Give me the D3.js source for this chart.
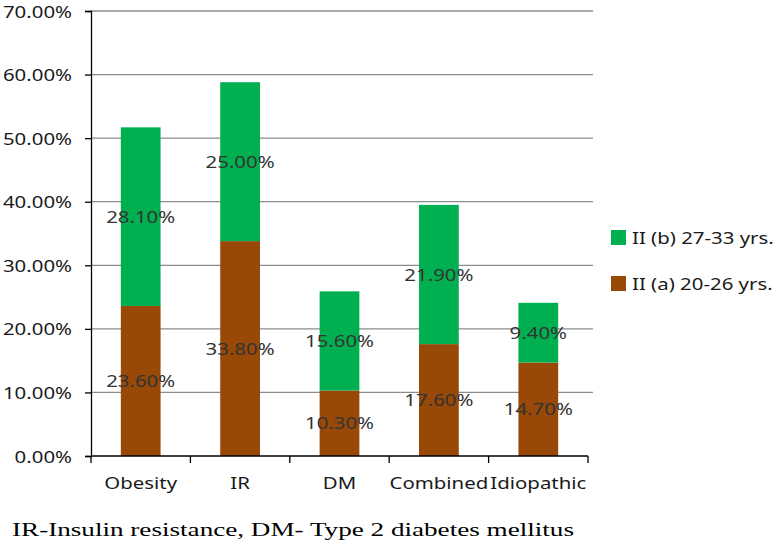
<!DOCTYPE html>
<html>
<head>
<meta charset="utf-8">
<script src="https://cdn.jsdelivr.net/npm/d3@7"></script>
<style>
  body { margin: 0; background: #fff; }
  svg { display: block; }
</style>
</head>
<body>
<svg width="774" height="545"></svg>
<script>
var categories = ["Obesity", "IR", "DM", "Combined", "Idiopathic"];
var seriesA = [23.6, 33.8, 10.3, 17.6, 14.7];   // II (a) 20-26 yrs.
var seriesB = [28.1, 25.0, 15.6, 21.9, 9.4];    // II (b) 27-33 yrs.
var yTicks = [0, 10, 20, 30, 40, 50, 60, 70];
var seriesNames = ["II (a) 20-26 yrs.", "II (b) 27-33 yrs."];
var footnote = "IR-Insulin resistance, DM- Type 2 diabetes mellitus";

var colA = "#984807", colB = "#00b050";
var font = "'Noto Sans', sans-serif";
var sx = 1.2; // text in the picture is stretched sideways

var svg = d3.select("svg");

var plotLeft = 91, plotRight = 588, plotTop = 11, plotBottom = 456;

var x = d3.scaleBand().domain(categories).range([plotLeft, plotRight]).paddingInner(0.6).paddingOuter(0.3);
var xEdge = d3.scaleLinear().domain([0, categories.length]).range([plotLeft, plotRight]);
var y = d3.scaleLinear().domain([0, 70]).range([plotBottom, plotTop]);

function stretchedText(g, px, py, txt, anchor) {
    return g.append("text")
        .attr("transform", "translate(" + px + "," + py + ") scale(" + sx + ",1)")
        .attr("text-anchor", anchor)
        .style("font-family", font)
        .style("font-size", "17px")
        .text(txt);
}

///////////////////// GRID ////////////////////
svg.append("g").selectAll("line")
    .data(yTicks.slice(1))
    .enter().append("line")
    .attr("x1", plotLeft).attr("x2", 593)
    .attr("y1", function(d) { return y(d); })
    .attr("y2", function(d) { return y(d); })
    .attr("stroke", "#8c8c8c")
    .attr("stroke-width", 1.3);

///////////////////// BARS ////////////////////
var rows = categories.map(function(c, i) { return { cat: c, a: seriesA[i], b: seriesB[i] }; });

var bars = svg.append("g");
bars.selectAll(".barA").data(rows).enter().append("rect")
    .attr("x", function(d) { return x(d.cat); })
    .attr("width", x.bandwidth())
    .attr("y", function(d) { return y(d.a); })
    .attr("height", function(d) { return y(0) - y(d.a); })
    .attr("fill", colA);
bars.selectAll(".barB").data(rows).enter().append("rect")
    .attr("x", function(d) { return x(d.cat); })
    .attr("width", x.bandwidth())
    .attr("y", function(d) { return y(d.a + d.b); })
    .attr("height", function(d) { return y(d.a) - y(d.a + d.b); })
    .attr("fill", colB);

///////////////////// Y AXIS ////////////////////
var yAxis = d3.axisLeft(y).tickValues(yTicks).tickSize(6)
    .tickFormat(function(d) { return d.toFixed(2) + "%"; });
var yg = svg.append("g").attr("transform", "translate(" + plotLeft + ",0)").call(yAxis);
yg.select(".domain").attr("stroke", "#000").attr("stroke-width", 1.3);
yg.selectAll(".tick line").attr("stroke", "#000").attr("stroke-width", 1.3);
yg.selectAll(".tick text").remove();
yg.selectAll(".tick").each(function(d) {
    stretchedText(d3.select(this), -19, 6, d.toFixed(2) + "%", "end").attr("fill", "#1a1a1a");
});

///////////////////// X AXIS ////////////////////
var xg = svg.append("g");
xg.append("line").attr("x1", plotLeft).attr("x2", plotRight).attr("y1", plotBottom).attr("y2", plotBottom)
    .attr("stroke", "#000").attr("stroke-width", 1.3);
xg.selectAll(".edge").data(d3.range(categories.length + 1)).enter().append("line")
    .attr("x1", function(d) { return xEdge(d); }).attr("x2", function(d) { return xEdge(d); })
    .attr("y1", plotBottom).attr("y2", plotBottom + 7)
    .attr("stroke", "#000").attr("stroke-width", 1.3);
categories.forEach(function(c) {
    stretchedText(xg, x(c) + x.bandwidth() / 2, 489, c, "middle").attr("fill", "#1a1a1a");
});

///////////////////// DATA LABELS ////////////////////
var lab = svg.append("g");
rows.forEach(function(d) {
    var cx = x(d.cat) + x.bandwidth() / 2;
    stretchedText(lab, cx, (y(0) + y(d.a)) / 2 + 6, d.a.toFixed(2) + "%", "middle").attr("fill", "#333");
    stretchedText(lab, cx, (y(d.a) + y(d.a + d.b)) / 2 + 6, d.b.toFixed(2) + "%", "middle").attr("fill", "#333");
});

///////////////////// LEGEND ////////////////////
var leg = svg.append("g");
[{ name: seriesNames[1], col: colB, yy: 230 }, { name: seriesNames[0], col: colA, yy: 276 }].forEach(function(it) {
    leg.append("rect").attr("x", 611).attr("y", it.yy).attr("width", 15).attr("height", 15).attr("fill", it.col);
    stretchedText(leg, 632, it.yy + 14, it.name, "start").attr("fill", "#1a1a1a");
});

///////////////////// FOOTNOTE ////////////////////
svg.append("text")
    .attr("x", 12).attr("y", 536)
    .attr("textLength", 562).attr("lengthAdjust", "spacingAndGlyphs")
    .style("font-family", "'Liberation Serif', 'Times New Roman', serif")
    .style("font-size", "18px")
    .attr("fill", "#000")
    .text(footnote);
</script>
</body>
</html>
